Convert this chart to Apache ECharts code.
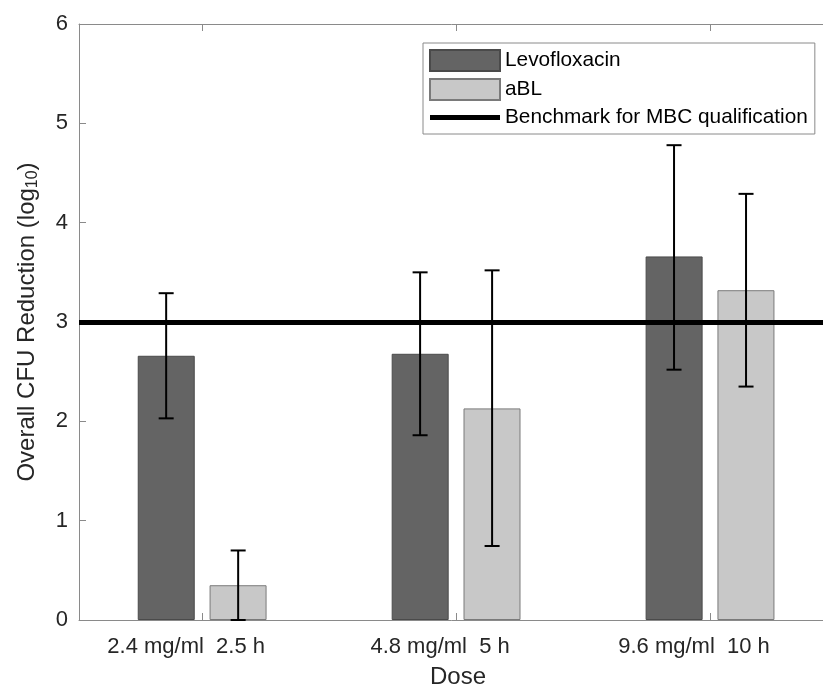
<!DOCTYPE html>
<html>
<head>
<meta charset="utf-8">
<script src="https://cdn.jsdelivr.net/npm/echarts@6/dist/echarts.min.js"></script>
<style>
  html, body { margin: 0; padding: 0; background: #fff; }
  #chart { width: 823px; height: 688px; }
</style>
</head>
<body>
<div id="chart"></div>
<script>
const doseLabels = ["2.4 mg/ml  2.5 h", "4.8 mg/ml  5 h", "9.6 mg/ml  10 h"];
const doseIndex = [1, 2, 3];

const levo = [2.66, 2.68, 3.66];
const levoLow = [2.03, 1.86, 2.52];
const levoHigh = [3.29, 3.5, 4.78];

const abl = [0.35, 2.13, 3.32];
const ablLow = [0.0, 0.745, 2.35];
const ablHigh = [0.7, 3.52, 4.29];

const benchmark = 3;

const FONT = "Liberation Sans, Arial, Helvetica, sans-serif";
const AXIS_GRAY = "#8a8a8a";
const TEXT = "#262626";

// error bars drawn beside each bar of the group
const errorSeries = (name, low, high, side) => ({
  type: "custom",
  name: name + " err",
  z: 5,
  silent: true,
  renderItem: (params, api) => {
    const x = api.value(0);
    const lo = api.coord([x, api.value(1)]);
    const hi = api.coord([x, api.value(2)]);
    const px = lo[0] + side * 36;
    const cap = 7.5;
    const style = { stroke: "#000", lineWidth: 2 };
    return {
      type: "group",
      children: [
        { type: "line", shape: { x1: px, y1: lo[1], x2: px, y2: hi[1] }, style },
        { type: "line", shape: { x1: px - cap, y1: lo[1], x2: px + cap, y2: lo[1] }, style },
        { type: "line", shape: { x1: px - cap, y1: hi[1], x2: px + cap, y2: hi[1] }, style }
      ]
    };
  },
  encode: { x: 0, y: [1, 2] },
  data: doseIndex.map((d, i) => [d, low[i], high[i]])
});

const chart = echarts.init(document.getElementById("chart"));

const option = {
  animation: false,
  backgroundColor: "#fff",
  textStyle: { fontFamily: FONT },
  grid: { left: 79, top: 24, right: -14, bottom: 68, outerBoundsMode: "none", containLabel: false },
  legend: {
    orient: "vertical",
    left: 423,
    top: 43,
    padding: [6, 7, 6, 6],
    itemWidth: 70,
    itemHeight: 21,
    itemGap: 6,
    backgroundColor: "#fff",
    borderColor: "#8a8a8a",
    borderWidth: 1,
    textStyle: { fontSize: 20.8, color: "#000", fontFamily: FONT },
    data: [
      { name: "Levofloxacin", icon: "rect" },
      { name: "aBL", icon: "rect" },
      {
        name: "Benchmark for MBC qualification",
        icon: "path://M0,0H70V5H0Z",
        itemStyle: { color: "#000", borderWidth: 0 }
      }
    ]
  },
  xAxis: [
    {
      type: "value",
      min: 0.515,
      max: 3.5,
      position: "bottom",
      splitLine: { show: false },
      axisLine: { show: true, lineStyle: { color: AXIS_GRAY, width: 1 } },
      axisTick: { show: true, inside: true, length: 7, customValues: doseIndex, lineStyle: { color: AXIS_GRAY } },
      axisLabel: {
        customValues: doseIndex,
        formatter: (v) => doseLabels[Math.round(v) - 1] || "",
        fontSize: 22,
        color: TEXT,
        margin: 16,
        padding: [0, 32, 0, 0],
        fontFamily: FONT
      },
      name: "Dose",
      nameLocation: "middle",
      nameGap: 45,
      nameTextStyle: { fontSize: 24, color: TEXT, fontFamily: FONT }
    },
    {
      type: "value",
      min: 0.515,
      max: 3.5,
      position: "top",
      splitLine: { show: false },
      axisLine: { show: true, lineStyle: { color: AXIS_GRAY, width: 1 } },
      axisTick: { show: true, inside: true, length: 7, customValues: doseIndex, lineStyle: { color: AXIS_GRAY } },
      axisLabel: { show: false }
    }
  ],
  yAxis: {
    type: "value",
    min: 0,
    max: 6,
    interval: 1,
    splitLine: { show: false },
    axisLine: { show: true, lineStyle: { color: AXIS_GRAY, width: 1 } },
    axisTick: { show: true, inside: true, length: 7, lineStyle: { color: AXIS_GRAY } },
    axisLabel: { fontSize: 22, color: TEXT, margin: 11, fontFamily: FONT },
    name: "Overall CFU Reduction (log{sub|10})",
    nameLocation: "middle",
    nameGap: 38,
    nameRotate: 90,
    nameTextStyle: {
      fontSize: 24,
      color: TEXT,
      fontFamily: FONT,
      rich: {
        sub: { fontSize: 16, color: TEXT, fontFamily: FONT, verticalAlign: "bottom", padding: [12, 0, 0, 0] }
      }
    }
  },
  series: [
    {
      name: "Levofloxacin",
      type: "bar",
      barWidth: 57,
      barGap: "26%",
      itemStyle: { color: "#646464", borderColor: "#4a4a4a", borderWidth: 1 },
      data: doseIndex.map((d, i) => [d, levo[i]])
    },
    {
      name: "aBL",
      type: "bar",
      barWidth: 57,
      barGap: "26%",
      itemStyle: { color: "#c8c8c8", borderColor: "#7a7a7a", borderWidth: 1 },
      data: doseIndex.map((d, i) => [d, abl[i]])
    },
    {
      name: "Benchmark for MBC qualification",
      type: "line",
      symbol: "none",
      z: 4,
      lineStyle: { color: "#000", width: 5 },
      itemStyle: { color: "#000" },
      data: [],
      markLine: {
        silent: true,
        symbol: ["none", "none"],
        label: { show: false },
        lineStyle: { color: "#000", width: 5, type: "solid" },
        data: [{ yAxis: benchmark }]
      }
    },
    errorSeries("Levofloxacin", levoLow, levoHigh, -1),
    errorSeries("aBL", ablLow, ablHigh, 1)
  ]
};

chart.setOption(option);
</script>
</body>
</html>
